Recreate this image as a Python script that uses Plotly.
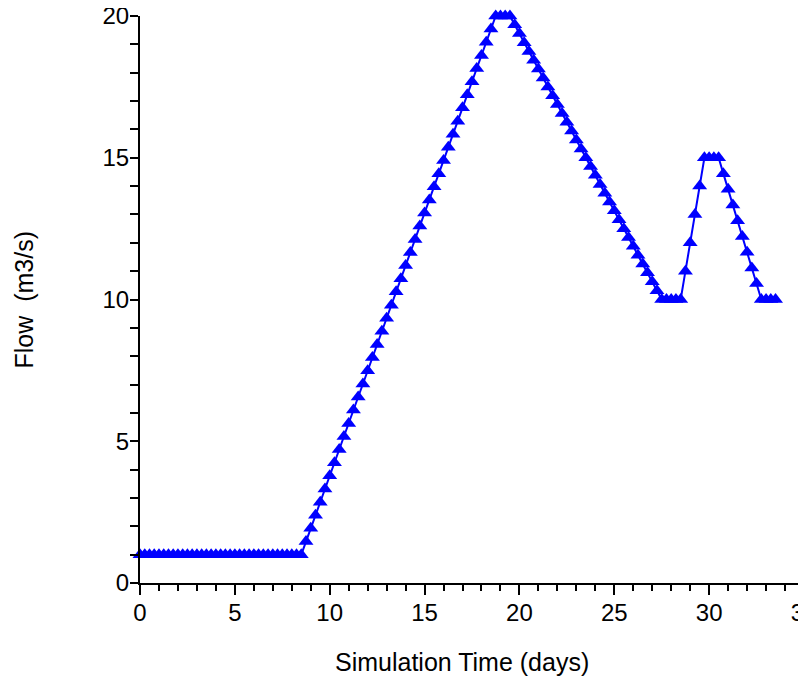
import plotly.graph_objects as go

# Simulation time (days)
time_days = [
    0.0, 0.25, 0.5, 0.75, 1.0, 1.25, 1.5, 1.75, 2.0, 2.25, 2.5, 2.75,
    3.0, 3.25, 3.5, 3.75, 4.0, 4.25, 4.5, 4.75, 5.0, 5.25, 5.5, 5.75,
    6.0, 6.25, 6.5, 6.75, 7.0, 7.25, 7.5, 7.75, 8.0, 8.25, 8.5,
    8.75, 9.0, 9.25, 9.5, 9.75, 10.0, 10.25, 10.5, 10.75, 11.0, 11.25, 11.5,
    11.75, 12.0, 12.25, 12.5, 12.75, 13.0, 13.25, 13.5, 13.75, 14.0, 14.25, 14.5,
    14.75, 15.0, 15.25, 15.5, 15.75, 16.0, 16.25, 16.5, 16.75, 17.0, 17.25, 17.5,
    17.75, 18.0, 18.25, 18.5,
    18.75, 19.0, 19.25, 19.5,
    19.75, 20.0, 20.25, 20.5, 20.75, 21.0, 21.25, 21.5, 21.75, 22.0, 22.25, 22.5,
    22.75, 23.0, 23.25, 23.5, 23.75, 24.0, 24.25, 24.5, 24.75, 25.0, 25.25, 25.5,
    25.75, 26.0, 26.25, 26.5, 26.75, 27.0, 27.25,
    27.5, 27.75, 28.0, 28.25, 28.5,
    28.75, 29.0, 29.25, 29.5, 29.75, 30.0, 30.25, 30.5,
    30.75, 31.0, 31.25, 31.5, 31.75, 32.0, 32.25, 32.5,
    32.75, 33.0, 33.25, 33.5,
]

# Flow (m3/s)
flow = [
    1, 1, 1, 1, 1, 1, 1, 1, 1, 1, 1, 1,
    1, 1, 1, 1, 1, 1, 1, 1, 1, 1, 1, 1,
    1, 1, 1, 1, 1, 1, 1, 1, 1, 1, 1,
    1.46, 1.93, 2.39, 2.85, 3.32, 3.78, 4.24, 4.71, 5.17, 5.63, 6.10, 6.56,
    7.02, 7.49, 7.95, 8.41, 8.88, 9.34, 9.80, 10.27, 10.73, 11.20, 11.66, 12.12,
    12.59, 13.05, 13.51, 13.98, 14.44, 14.90, 15.37, 15.83, 16.29, 16.76, 17.22, 17.68,
    18.15, 18.61, 19.07, 19.54,
    20, 20, 20, 20,
    19.69, 19.38, 19.06, 18.75, 18.44, 18.13, 17.81, 17.50, 17.19, 16.88, 16.56, 16.25,
    15.94, 15.63, 15.31, 15.00, 14.69, 14.38, 14.06, 13.75, 13.44, 13.13, 12.81, 12.50,
    12.19, 11.88, 11.56, 11.25, 10.94, 10.63, 10.31,
    10, 10, 10, 10, 10,
    11, 12, 13, 14, 15, 15, 15, 15,
    14.44, 13.89, 13.33, 12.78, 12.22, 11.67, 11.11, 10.56,
    10, 10, 10, 10,
]

x_tick_vals = [0, 5, 10, 15, 20, 25, 30, 35]
y_tick_vals = [0, 5, 10, 15, 20]

FONT = "Liberation Sans, Arial, sans-serif"

fig = go.Figure()
fig.add_trace(go.Scatter(
    x=time_days, y=flow, mode="lines+markers",
    line=dict(color="#0000FF", width=2),
    marker=dict(symbol="triangle-up", size=13, color="#0000FF"),
    showlegend=False, cliponaxis=False,
))

axis_common = dict(
    showline=True, linecolor="black", linewidth=2,
    ticks="outside", tickcolor="black", tickwidth=2,
    showgrid=False, zeroline=False, ticklabeloverflow="allow",
    tickfont=dict(family=FONT, size=24, color="black"),
)

fig.update_xaxes(
    range=[0, 35], tickvals=x_tick_vals, ticklen=10, ticklabelstandoff=-3,
    minor=dict(dtick=1, ticks="outside", ticklen=6, tickwidth=2, tickcolor="black", showgrid=False),
    **axis_common,
)
fig.update_yaxes(
    range=[0, 20], tickvals=y_tick_vals, ticklen=8, ticklabelstandoff=-4,
    minor=dict(dtick=1, ticks="outside", ticklen=8, tickwidth=2, tickcolor="black", showgrid=False),
    **axis_common,
)

fig.update_layout(
    width=798, height=671,
    margin=dict(l=132, r=2, t=8, b=96, autoexpand=False),
    plot_bgcolor="white", paper_bgcolor="white",
    annotations=[
        dict(text="Simulation Time (days)", xref="paper", yref="paper",
             x=0.485, y=-0.139, xanchor="center", yanchor="middle",
             showarrow=False, font=dict(family=FONT, size=25, color="black")),
        dict(text="Flow  (m3/s)", xref="paper", yref="paper",
             x=-0.1747, y=0.5, xanchor="center", yanchor="middle", textangle=-90,
             showarrow=False, font=dict(family=FONT, size=25, color="black")),
    ],
)

fig.write_html("out.html")
